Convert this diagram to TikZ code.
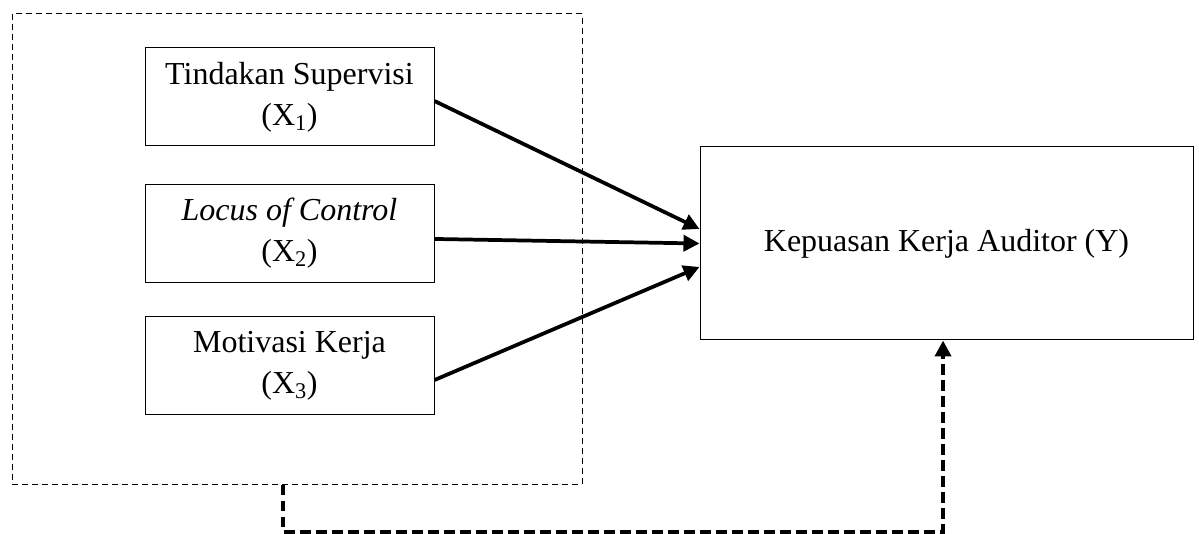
\documentclass[tikz,border=0pt]{standalone}
\usepackage{fontspec}
\setmainfont{Liberation Serif}
\usetikzlibrary{arrows.meta}

\begin{document}
\begin{tikzpicture}[x=0.75pt, y=-0.75pt,
		var/.style={draw, line width=0.75pt, minimum width=216.75pt, minimum height=73.5pt, inner sep=0pt, align=center, font=\fontsize{24}{30.75}\selectfont},
		grp/.style={draw, line width=0.75pt, dash pattern=on 4.5pt off 3pt, minimum width=427.5pt, minimum height=352.5pt, inner sep=0pt},
		link/.style={line width=2.8pt, -{Triangle[length=12pt, width=12pt]}},
		fb/.style={line width=3pt, dash pattern=on 8pt off 4pt, -{Triangle[length=12pt, width=12pt]}}]
		\useasboundingbox (0,0) rectangle (1199,534);
		
		\node[grp] (grp) at (297,249) {};
		\node[var] (ts) at (289.5,97) {Tindakan Supervisi\\(X\textsubscript{1})};
		\node[var] (lc) at (289.5,233.5) {\textit{Locus of Control}\\(X\textsubscript{2})};
		\node[var] (mk) at (289.5,365.5) {Motivasi Kerja\\(X\textsubscript{3})};
		\node[var, minimum width=369.75pt, minimum height=144.75pt] (ky) at (946.5,243.5) {Kepuasan Kerja Auditor (Y)};
		
		\draw[link] ([yshift=-3pt]ts.east) -- ([yshift=10.9pt]ky.west);
		\draw[link] ([yshift=-4.1pt]lc.east) -- (ky.west);
		\draw[link] ([yshift=-10.9pt]mk.east) -- ([yshift=-17.6pt]ky.west);
		\draw[fb] ([xshift=-10.5pt]grp.south) -- ++(0,47) -| ([xshift=-2.6pt]ky.south);
	\end{tikzpicture}
\end{document}
